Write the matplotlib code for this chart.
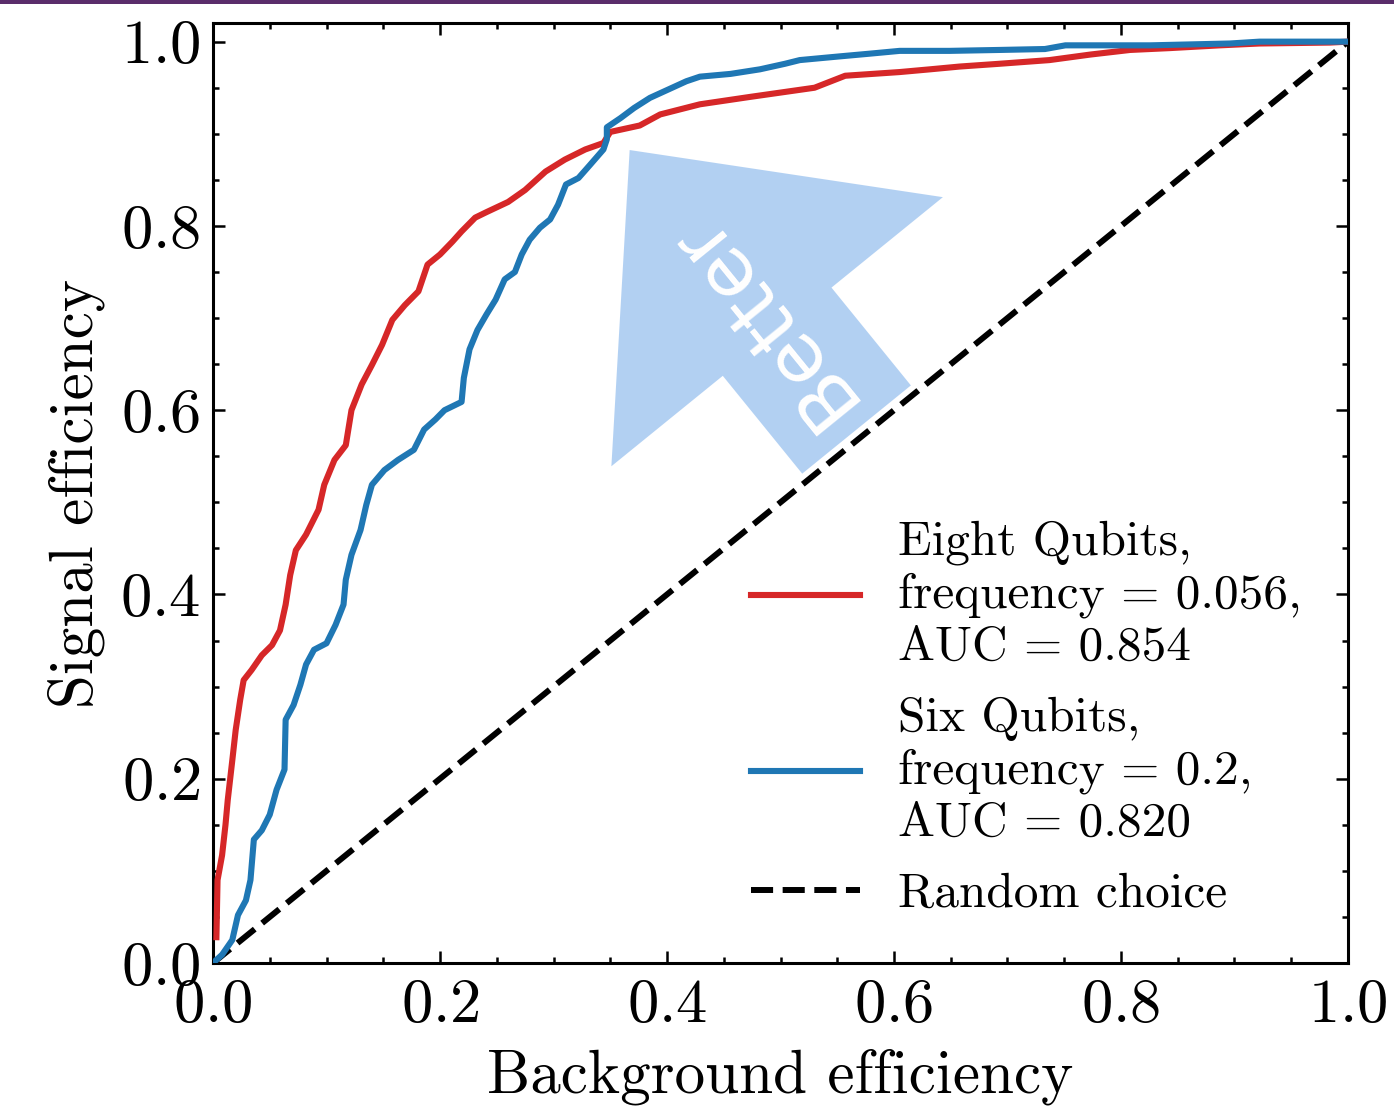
import numpy as np
import matplotlib
matplotlib.use("Agg")
import matplotlib.pyplot as plt
from matplotlib.patches import FancyArrow, Rectangle
from matplotlib.transforms import ScaledTranslation

plt.rcParams['font.family'] = 'serif'
plt.rcParams['font.serif'] = ['cmr10']
plt.rcParams['mathtext.fontset'] = 'cm'
plt.rcParams['axes.formatter.use_mathtext'] = True

# ROC points, eight qubit classifier
fpr_eight = [0.003, 0.004, 0.008, 0.011, 0.013, 0.017, 0.020, 0.024, 0.027, 0.034,
             0.043, 0.052, 0.059, 0.064, 0.068, 0.073, 0.082, 0.093, 0.098, 0.107,
             0.117, 0.122, 0.131, 0.140, 0.149, 0.158, 0.169, 0.181, 0.189, 0.200,
             0.211, 0.219, 0.231, 0.241, 0.260, 0.275, 0.293, 0.310, 0.328, 0.344,
             0.350, 0.376, 0.394, 0.429, 0.473, 0.530, 0.557, 0.605, 0.632, 0.658,
             0.693, 0.737, 0.773, 0.808, 0.843, 0.887, 0.922, 0.984, 1.000]
tpr_eight = [0.028, 0.090, 0.117, 0.150, 0.177, 0.220, 0.253, 0.286, 0.307, 0.318,
             0.334, 0.345, 0.361, 0.389, 0.421, 0.448, 0.465, 0.492, 0.519, 0.546,
             0.562, 0.600, 0.628, 0.649, 0.671, 0.698, 0.714, 0.729, 0.758, 0.769,
             0.783, 0.794, 0.809, 0.815, 0.826, 0.839, 0.859, 0.872, 0.883, 0.890,
             0.902, 0.909, 0.921, 0.932, 0.940, 0.950, 0.963, 0.967, 0.970, 0.973,
             0.976, 0.980, 0.986, 0.991, 0.993, 0.996, 0.998, 0.999, 1.000]

# ROC points, six qubit classifier
fpr_six = [0.000, 0.008, 0.017, 0.022, 0.029, 0.033, 0.036, 0.043, 0.050, 0.056,
           0.063, 0.064, 0.071, 0.077, 0.082, 0.089, 0.100, 0.108, 0.115, 0.117,
           0.122, 0.130, 0.135, 0.140, 0.151, 0.163, 0.177, 0.186, 0.196, 0.204,
           0.219, 0.221, 0.226, 0.233, 0.241, 0.249, 0.257, 0.266, 0.272, 0.279,
           0.288, 0.297, 0.304, 0.311, 0.322, 0.332, 0.344, 0.347, 0.347, 0.359,
           0.371, 0.385, 0.401, 0.417, 0.429, 0.456, 0.482, 0.504, 0.517, 0.552,
           0.579, 0.605, 0.649, 0.693, 0.733, 0.751, 0.826, 0.896, 0.922, 1.000]
tpr_six = [0.000, 0.009, 0.025, 0.052, 0.068, 0.090, 0.134, 0.144, 0.161, 0.188,
           0.210, 0.264, 0.280, 0.302, 0.324, 0.340, 0.347, 0.367, 0.389, 0.416,
           0.443, 0.470, 0.497, 0.519, 0.535, 0.546, 0.557, 0.579, 0.590, 0.600,
           0.609, 0.635, 0.666, 0.687, 0.704, 0.720, 0.742, 0.750, 0.769, 0.785,
           0.798, 0.807, 0.823, 0.845, 0.852, 0.866, 0.883, 0.894, 0.907, 0.917,
           0.928, 0.939, 0.948, 0.957, 0.962, 0.965, 0.970, 0.976, 0.980, 0.984,
           0.987, 0.990, 0.990, 0.991, 0.992, 0.996, 0.996, 0.998, 1.000, 1.000]

labels = ["Eight Qubits,\nfrequency = 0.056,\nAUC = 0.854",
          "Six Qubits,\nfrequency = 0.2,\nAUC = 0.820",
          "Random choice"]

fig = plt.figure(figsize=(13.94, 11.06), dpi=100)
ax = fig.add_axes([0.1528, 0.1293, 0.967 - 0.1528, 0.979 - 0.1293])

ax.plot(fpr_eight, tpr_eight, color='#d62728', lw=4.4, label=labels[0], zorder=3)
ax.plot(fpr_six, tpr_six, color='#1f77b4', lw=4.4, label=labels[1], zorder=3)
ax.plot([0, 1], [0, 1], color='k', ls='--', lw=4.3, label=labels[2], zorder=2)

ax.set_xlim(0, 1.0)
ax.set_ylim(0, 1.02)
ax.set_xticks(np.arange(0, 1.01, 0.2))
ax.set_yticks(np.arange(0, 1.01, 0.2))
ax.set_xticks(np.arange(0, 1.01, 0.05), minor=True)
ax.set_yticks(np.arange(0, 1.01, 0.05), minor=True)
ax.tick_params(which='both', direction='in', top=True, right=True, width=1.8)
ax.tick_params(which='major', length=8.5, labelsize=45, pad=9)
ax.tick_params(which='minor', length=4.5)
ax.tick_params(axis='x', which='major', pad=11)
for sp in ax.spines.values():
    sp.set_linewidth(2.2)

ax.set_xlabel("Background efficiency", fontsize=44, labelpad=11)
ax.set_ylabel("Signal efficiency", fontsize=44, labelpad=11)

# "Better" arrow, drawn square to the diagonal in screen space
bb = ax.get_position()
w_in = bb.width * fig.get_figwidth()
h_in = bb.height * fig.get_figheight() / 1.02
theta = np.arctan2(h_in, w_in) + np.pi / 2
length = 3.6
trans = fig.dpi_scale_trans + ScaledTranslation(0.567, 0.579, ax.transData)
arrow = FancyArrow(0, 0, length * np.cos(theta), length * np.sin(theta),
                   width=1.40, head_width=4.27, head_length=2.34,
                   length_includes_head=True, transform=trans,
                   fc='#67a3e7', ec='none', alpha=0.5, zorder=4)
ax.add_patch(arrow)
ax.text(0.482, 0.700, "Better", family='DejaVu Sans', fontsize=57, color='white',
        rotation=np.degrees(theta), rotation_mode='anchor',
        ha='center', va='center', zorder=5)

leg = ax.legend(loc='lower left', bbox_to_anchor=(0.457, 0.028), borderaxespad=0,
                frameon=False, fontsize=35.5, handlelength=2.2, handletextpad=0.78,
                labelspacing=0.55)
for t in leg.get_texts():
    t.set_linespacing(1.21)

# thin band along the top edge
fig.patches.append(Rectangle((0, 1 - 3.5 / 1106), 1, 3.5 / 1106, transform=fig.transFigure,
                             fc='#5a2d6b', ec='none', zorder=10))

fig.savefig("out.png", dpi=100)
